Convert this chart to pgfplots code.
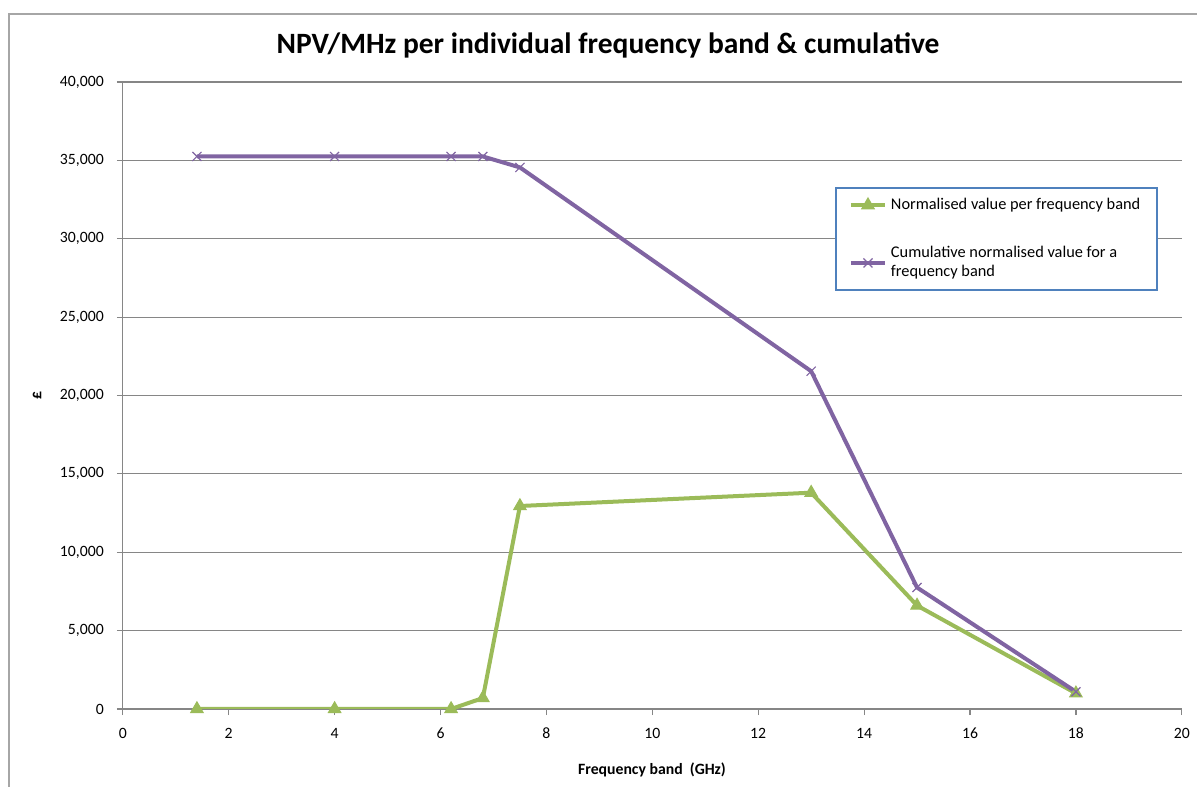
\documentclass[border=0pt]{standalone}
\usepackage{fontspec}
\setmainfont{Carlito}
\usepackage{pgfplots}
\pgfplotsset{compat=1.18}
\definecolor{cgreen}{HTML}{9BBB59}
\definecolor{cpurple}{HTML}{8064A2}
\definecolor{cgrid}{HTML}{868686}
\definecolor{clegend}{HTML}{4F81BD}
\definecolor{cframe}{HTML}{A6A6A6}
\begin{document}
\begin{tikzpicture}
\path[use as bounding box] (0,0) rectangle (598.5bp,393.5bp);
\draw[cframe, line width=0.8bp] (4.5bp,0) -- (4.5bp,386.5bp) -- (598.5bp,386.5bp);
\begin{axis}[
  at={(61.4bp,39bp)}, anchor=south west,
  scale only axis, width=529.5bp, height=313.5bp,
  xmin=0, xmax=20, ymin=0, ymax=40000,
  xtick={0,2,...,20}, ytick={0,5000,...,40000},
  axis line style={cgrid, line width=0.6bp},
  axis x line*=bottom, axis y line*=left,
  ymajorgrids, grid style={cgrid, line width=0.6bp},
  tick style={cgrid, line width=0.6bp},
  tick align=outside, major tick length=3bp,
  tick label style={font=\fontsize{7.9}{9}\selectfont},
  xticklabel style={yshift=-3bp},
  yticklabel style={xshift=-3bp},
  scaled y ticks=false,
  /pgf/number format/.cd, 1000 sep={,}, assume math mode=true,
  /pgfplots/.cd,
  legend style={at={(0.6725,0.8325)}, anchor=north west,
    draw=clegend, line width=1bp, inner xsep=6.5bp, inner ysep=3bp,
    font=\fontsize{8.2}{9.5}\selectfont, row sep=13bp,
    cells={align=left}},
  legend cell align=left,
]
\addplot[cgreen, line width=2bp, mark=triangle*, mark size=3.6bp,
  mark options={line width=0.5bp, fill=cgreen}]
  coordinates {(1.4,0) (4,0) (6.2,0) (6.8,700) (7.5,12950) (13,13800) (15,6600) (18,1000)};
\addplot[cpurple, line width=2bp, mark=x, mark size=3.2bp,
  mark options={line width=0.6bp}]
  coordinates {(1.4,35250) (4,35250) (6.2,35250) (6.8,35250) (7.5,34550) (13,21550) (15,7750) (18,1100)};
\legend{Normalised value per frequency band, {Cumulative normalised value for a\\frequency band}}
\end{axis}
\node[font=\bfseries\fontsize{14.8}{17}\selectfont] at (304bp,371bp) {NPV/MHz per individual frequency band \& cumulative};
\node[font=\bfseries\fontsize{7.9}{9}\selectfont] at (326bp,8.5bp) {Frequency band \ (GHz)};
\node[font=\bfseries\fontsize{7.9}{9}\selectfont, rotate=90] at (18.5bp,195.5bp) {£};
\end{tikzpicture}
\end{document}
